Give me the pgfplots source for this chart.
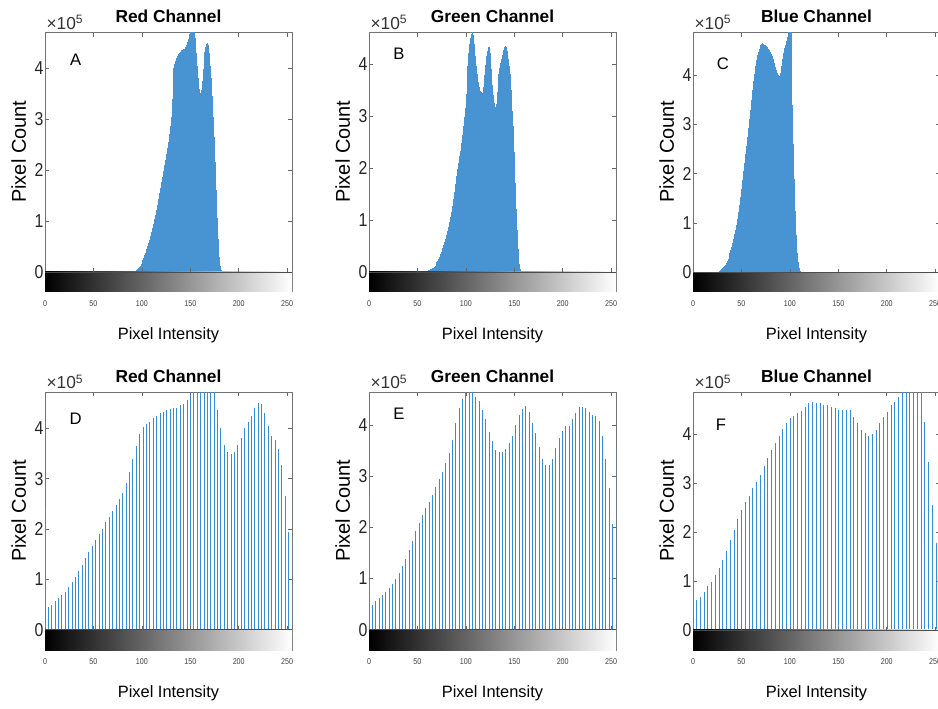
\documentclass[border=0pt]{standalone}
\usepackage{fontspec}
\setmainfont{Liberation Sans}
\newfontfamily\narrowsans[FakeStretch=0.85]{Liberation Sans}
\usepackage{pgfplots}
\usepackage{pgfplotstable}
\pgfplotsset{compat=1.18}

\definecolor{mblue}{rgb}{0,0.447,0.741}
\definecolor{mfill}{RGB}{72,148,210}
\definecolor{mstem}{RGB}{52,142,212}

% top row: histograms of the original channels (one stem per intensity, values in 1e5)
\pgfplotstableread{
x y
90 0
91 0.005
92 0.01
93 0.02
94 0.03
95 0.05
96 0.07
97 0.09
98 0.12
99 0.15
100 0.19
101 0.23
102 0.28
103 0.33
104 0.38
105 0.44
106 0.50
107 0.56
108 0.63
109 0.70
110 0.78
111 0.86
112 0.94
113 1.03
114 1.12
115 1.22
116 1.32
117 1.43
118 1.54
119 1.65
120 1.76
121 1.87
122 1.98
123 2.09
124 2.20
125 2.31
126 2.43
127 2.56
128 2.70
129 2.86
130 3.05
131 3.40
132 3.85
133 4.00
134 4.08
135 4.15
136 4.20
137 4.25
138 4.28
139 4.31
140 4.33
141 4.35
142 4.36
143 4.37
144 4.38
145 4.42
146 4.46
147 4.52
148 4.58
149 4.68
150 4.78
151 4.85
152 4.90
153 4.88
154 4.82
155 4.60
156 4.30
157 4.05
158 3.80
159 3.60
160 3.52
161 3.58
162 3.75
163 3.98
164 4.18
165 4.32
166 4.42
167 4.48
168 4.50
169 4.45
170 4.30
171 4.05
172 3.80
173 3.45
174 3.05
175 2.65
176 2.15
177 1.60
178 1.05
179 0.65
180 0.30
181 0.12
182 0.03
183 0
}\redorig

\pgfplotstableread{
x y
57 0
58 0.005
59 0.01
60 0.02
61 0.03
62 0.04
63 0.05
64 0.06
65 0.07
66 0.08
67 0.10
68 0.12
69 0.15
70 0.18
71 0.21
72 0.25
73 0.29
74 0.34
75 0.39
76 0.45
77 0.51
78 0.57
79 0.63
80 0.70
81 0.78
82 0.86
83 0.95
84 1.05
85 1.15
86 1.27
87 1.40
88 1.53
89 1.68
90 1.85
91 1.98
92 2.10
93 2.22
94 2.33
95 2.48
96 2.64
97 2.80
98 2.98
99 3.15
100 3.42
101 3.70
102 3.95
103 4.20
104 4.38
105 4.50
106 4.58
107 4.62
108 4.55
109 4.38
110 4.15
111 3.95
112 3.80
113 3.65
114 3.55
115 3.48
116 3.45
117 3.44
118 3.55
119 3.78
120 3.98
121 4.15
122 4.25
123 4.32
124 4.33
125 4.20
126 3.90
127 3.60
128 3.40
129 3.25
130 3.18
131 3.22
132 3.45
133 3.65
134 3.80
135 3.92
136 4.02
137 4.10
138 4.18
139 4.26
140 4.32
141 4.35
142 4.32
143 4.25
144 4.10
145 3.95
146 3.80
147 3.50
148 3.10
149 2.80
150 2.30
151 1.70
152 1.20
153 0.80
154 0.43
155 0.15
156 0.05
157 0
}\greenorig

\pgfplotstableread{
x y
25 0
26 0.01
27 0.02
28 0.04
29 0.06
30 0.08
31 0.10
32 0.12
33 0.15
34 0.19
35 0.23
36 0.28
37 0.33
38 0.39
39 0.45
40 0.52
41 0.60
42 0.68
43 0.77
44 0.86
45 0.96
46 1.08
47 1.22
48 1.36
49 1.52
50 1.70
51 1.88
52 2.05
53 2.22
54 2.40
55 2.57
56 2.75
57 2.92
58 3.10
59 3.30
60 3.50
61 3.70
62 3.87
63 4.03
64 4.18
65 4.30
66 4.40
67 4.46
68 4.52
69 4.56
70 4.60
71 4.63
72 4.65
73 4.64
74 4.62
75 4.60
76 4.58
77 4.56
78 4.53
79 4.50
80 4.47
81 4.43
82 4.38
83 4.32
84 4.25
85 4.17
86 4.10
87 4.04
88 4.00
89 3.99
90 4.05
91 4.18
92 4.33
93 4.45
94 4.55
95 4.62
96 4.70
97 4.78
98 4.88
99 4.95
100 5.00
101 4.95
102 4.30
103 3.40
104 2.60
105 1.90
106 1.25
107 0.75
108 0.40
109 0.20
110 0.08
111 0.02
112 0
}\blueorig

% bottom row: histograms after equalisation (sparse output levels)
\pgfplotstableread{
x y
0 2.41
3.49 0.45
6.99 0.50
10.48 0.56
13.97 0.63
17.47 0.68
20.96 0.74
24.45 0.85
27.95 0.95
31.44 1.05
34.93 1.17
38.42 1.29
41.92 1.43
45.41 1.55
48.90 1.67
52.40 1.78
55.89 1.90
59.38 2.01
62.88 2.14
66.37 2.24
69.86 2.35
73.36 2.47
76.85 2.59
80.34 2.72
83.84 2.92
87.33 3.14
90.82 3.39
94.32 3.65
97.81 3.90
101.30 4.02
104.79 4.08
108.29 4.12
111.78 4.20
115.27 4.25
118.77 4.30
122.26 4.33
125.75 4.36
129.25 4.38
132.74 4.40
136.23 4.40
139.73 4.46
143.22 4.48
146.71 4.56
150.21 4.66
153.70 4.80
157.19 4.90
160.68 4.90
164.18 4.85
167.67 4.80
171.16 4.80
174.66 4.75
178.15 4.36
181.64 4.01
185.14 3.68
188.63 3.54
192.12 3.50
195.62 3.54
199.11 3.67
202.60 3.82
206.10 4.01
209.59 4.13
213.08 4.25
216.58 4.40
220.07 4.50
223.56 4.48
227.05 4.30
230.55 4.05
234.04 3.85
237.53 3.77
241.03 3.60
244.52 3.27
248.01 2.65
251.51 1.94
255 2.77
}\redeq

\pgfplotstableread{
x y
0 2.59
3.45 0.48
6.89 0.56
10.34 0.61
13.78 0.68
17.23 0.74
20.68 0.82
24.12 0.89
27.57 1.00
31.01 1.11
34.46 1.24
37.91 1.38
41.35 1.55
44.80 1.73
48.24 1.92
51.69 2.09
55.14 2.25
58.58 2.38
62.03 2.50
65.47 2.64
68.92 2.79
72.36 2.94
75.81 3.09
79.26 3.26
82.70 3.45
86.15 3.71
89.59 4.04
93.04 4.33
96.49 4.50
99.93 4.68
103.38 4.75
106.82 4.75
110.27 4.54
113.72 4.46
117.16 4.30
120.61 4.12
124.05 3.87
127.50 3.68
130.95 3.52
134.39 3.47
137.84 3.47
141.28 3.53
144.73 3.65
148.18 3.79
151.62 4.00
155.07 4.20
158.51 4.31
161.96 4.37
165.41 4.26
168.85 4.04
172.30 3.84
175.74 3.57
179.19 3.33
182.64 3.21
186.08 3.21
189.53 3.34
192.97 3.55
196.42 3.74
199.86 3.89
203.31 3.98
206.76 3.99
210.20 4.12
213.65 4.23
217.09 4.35
220.54 4.35
223.99 4.33
227.43 4.26
230.88 4.20
234.32 4.17
237.77 4.07
241.22 3.78
244.66 3.33
248.11 2.76
251.55 2.07
255 3.55
}\greeneq

\pgfplotstableread{
x y
0 2.79
3.86 0.61
7.72 0.68
11.58 0.78
15.44 0.89
19.30 0.99
23.16 1.12
27.02 1.26
30.88 1.43
34.74 1.62
38.60 1.84
42.46 2.04
46.32 2.27
50.18 2.45
54.04 2.61
57.90 2.74
61.76 2.90
65.62 3.03
69.48 3.17
73.34 3.35
77.20 3.52
81.06 3.68
84.92 3.82
88.78 3.97
92.64 4.10
96.50 4.23
100.36 4.33
104.22 4.38
108.08 4.43
111.94 4.48
115.80 4.55
119.66 4.65
123.52 4.66
127.38 4.64
131.24 4.64
135.10 4.60
138.96 4.60
142.82 4.55
146.68 4.53
150.54 4.50
154.40 4.50
158.26 4.50
162.12 4.49
165.98 4.36
169.84 4.23
173.70 4.09
177.56 4.02
181.42 3.97
185.28 4.01
189.14 4.09
193.00 4.23
196.86 4.35
200.72 4.46
204.58 4.60
208.44 4.67
212.30 4.77
216.16 4.90
220.02 5.00
223.88 5.00
227.74 5.00
231.60 5.00
235.46 4.95
239.32 4.26
243.18 3.44
247.04 2.56
250.90 1.77
255 1.40
}\blueeq

\pgfplotsset{
  histo/.style={
    scale only axis, width=185.25pt,
    xmin=0, xmax=255,
    xtick={0,50,...,250}, ytick={0,1,2,3,4},
    scaled ticks=false,
    tick align=inside, major tick length=3pt,
    axis line style={black!55, line width=0.5pt},
    every tick/.style={black!60, line width=0.5pt},
    /pgf/number format/assume math mode=true,
    yticklabel style={font=\narrowsans\fontsize{14}{14}\selectfont, text=black!85, inner sep=0pt, xshift=-1pt},
    xticklabel style={font=\narrowsans\fontsize{6.3}{6.3}\selectfont, text=black!75, inner sep=0pt, anchor=north, yshift=-6.5pt},
    xlabel={Pixel Intensity}, ylabel={Pixel Count},
    ylabel style={at={(axis description cs:-0.106,0.54)}, anchor=center, font=\fontsize{15}{15}\selectfont},
    xlabel style={at={(axis description cs:0.5,-0.168)}, anchor=center, font=\fontsize{12.3}{12.3}\selectfont},
    clip mode=individual,
    anchor=north west,
  },
  stems/.style={ycomb, draw=#1, mark=none},
}

% grey intensity band under the zero line, its tick marks, the scale factor and the title
\newcommand{\grayband}[1]{%
  \fill[left color=black, right color=white] (axis cs:0,0) rectangle (rel axis cs:1,0);
  \draw[black!70, line width=0.5pt] (axis cs:0,0) -- (axis cs:255,0);
  \pgfplotsinvokeforeach{50,100,...,250}{\draw[black!60, line width=0.5pt] (axis cs:##1,0) -- (axis cs:##1,0.07);}
  \node[anchor=base west, inner sep=0pt, font=\fontsize{13}{13}\selectfont, text=black!80]
    at (axis description cs:0.005,1.013) {×10\textsuperscript{5}};
  \node[anchor=base, inner sep=0pt, font=\bfseries\fontsize{13}{13}\selectfont]
    at (axis description cs:0.5,1.038) {#1};
}
\newcommand{\panel}[1]{\node[font=\fontsize{12.5}{12.5}\selectfont] at #1}

\begin{document}
\begin{tikzpicture}
\begin{axis}[histo, at={(33.75pt,-24.5pt)}, height=194pt, ymin=-0.383, ymax=4.70]
\addplot[stems=mfill, line width=0.5pt] table {\redorig};
\grayband{Red Channel}
\panel{(axis description cs:0.124,0.894)} {A};
\end{axis}

\begin{axis}[histo, at={(276.75pt,-24.5pt)}, height=194pt, ymin=-0.375, ymax=4.60]
\addplot[stems=mfill, line width=0.5pt] table {\greenorig};
\grayband{Green Channel}
\panel{(axis description cs:0.121,0.918)} {B};
\end{axis}

\begin{axis}[histo, at={(519.75pt,-24.5pt)}, height=194pt, ymin=-0.385, ymax=4.86]
\addplot[stems=mfill, line width=0.5pt] table {\blueorig};
\grayband{Blue Channel}
\panel{(axis description cs:0.121,0.879)} {C};
\end{axis}

\begin{axis}[histo, at={(33.75pt,-294.2pt)}, height=193.3pt, ymin=-0.405, ymax=4.72]
\addplot[stems=mstem, line width=0.75pt] table {\redeq};
\grayband{Red Channel}
\panel{(axis description cs:0.124,0.896)} {D};
\end{axis}

\begin{axis}[histo, at={(276.75pt,-294.2pt)}, height=193.3pt, ymin=-0.397, ymax=4.64]
\addplot[stems=mstem, line width=0.75pt] table {\greeneq};
\grayband{Green Channel}
\panel{(axis description cs:0.121,0.917)} {E};
\end{axis}

\begin{axis}[histo, at={(519.75pt,-294.2pt)}, height=193.3pt, ymin=-0.41, ymax=4.86]
\addplot[stems=mstem, line width=0.75pt] table {\blueeq};
\grayband{Blue Channel}
\panel{(axis description cs:0.113,0.873)} {F};
\end{axis}

\pgfresetboundingbox
\path (0pt,0pt) rectangle (703.5pt,-531pt);
\end{tikzpicture}
\end{document}
